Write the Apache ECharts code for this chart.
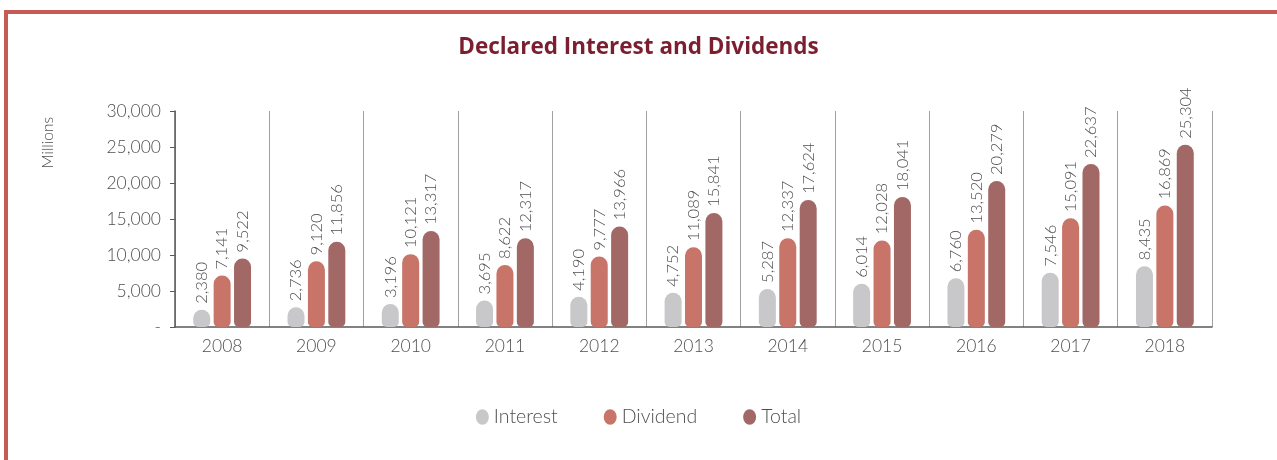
<!DOCTYPE html>
<html>
<head>
<meta charset="utf-8">
<script src="https://cdn.jsdelivr.net/npm/echarts@6/dist/echarts.min.js"></script>
<style>
    body { margin: 0; background: #fff; }
    /* 红色边框（左、上） */
    .frame {
        position: absolute;
        left: 4px;
        top: 10px;
        width: 1290px;
        height: 470px;
        border-left: 4px solid #c65a55;
        border-top: 4px solid #c65a55;
    }
    #main { position: absolute; left: 0; top: 0; width: 1277px; height: 460px; }
</style>
</head>
<body>
<div class="frame"></div>
<div id="main"></div>
<script>
const years = ['2008', '2009', '2010', '2011', '2012', '2013', '2014', '2015', '2016', '2017', '2018'];
const interest = [2380, 2736, 3196, 3695, 4190, 4752, 5287, 6014, 6760, 7546, 8435];
const dividend = [7141, 9120, 10121, 8622, 9777, 11089, 12337, 12028, 13520, 15091, 16869];
const total = [9522, 11856, 13317, 12317, 13966, 15841, 17624, 18041, 20279, 22637, 25304];
const seriesNames = ['Interest', 'Dividend', 'Total'];
const colors = ['#c8c8ca', '#c87468', '#a16865'];

const fmt = v => v.toLocaleString('en-US');
const fontFamily = 'Lato, "Open Sans", sans-serif';
const textColor = '#4f4f4f';
// 图例用的椭圆图标
const ellipseIcon = 'path://M50,0 A50,60 0 1,1 50,120 A50,60 0 1,1 50,0 Z';

const chart = echarts.init(document.getElementById('main'));

const makeSeries = (name, data, color) => ({
    name: name,
    type: 'bar',
    data: data,
    barWidth: 17,
    barGap: '20%',
    itemStyle: {
        color: color,
        borderRadius: [9, 9, 5, 5]
    },
    label: {
        show: true,
        position: 'top',
        rotate: 90,
        align: 'left',
        verticalAlign: 'middle',
        distance: 6,
        color: textColor,
        fontSize: 16.5,
        fontWeight: 300,
        fontFamily: fontFamily,
        formatter: p => fmt(p.value)
    }
});

const option = {
    animation: false,
    title: {
        text: 'Declared Interest and Dividends',
        left: 'center',
        top: 31,
        textStyle: {
            color: '#7b1f30',
            fontSize: 22.5,
            fontWeight: 'bold',
            fontFamily: '"Open Sans", sans-serif'
        }
    },
    legend: {
        bottom: 28,
        left: 'center',
        icon: ellipseIcon,
        itemWidth: 13,
        itemHeight: 16,
        itemGap: 46,
        textStyle: { color: textColor, fontSize: 19.5, fontWeight: 300, fontFamily: fontFamily },
        data: seriesNames
    },
    grid: { left: 175, right: 65, top: 111, bottom: 133 },
    xAxis: {
        type: 'category',
        data: years,
        axisLine: { lineStyle: { color: '#595959', width: 1.5 } },
        axisTick: { show: false },
        axisLabel: { color: textColor, fontSize: 17.5, fontWeight: 300, fontFamily: fontFamily, margin: 10 },
        splitLine: { show: true, lineStyle: { color: '#a0a0a0', width: 1 } }
    },
    yAxis: {
        type: 'value',
        min: 0,
        max: 30000,
        interval: 5000,
        axisLine: { show: true, lineStyle: { color: '#595959', width: 1.5 } },
        axisTick: { show: true, length: 5, lineStyle: { color: '#595959' } },
        axisLabel: {
            color: textColor,
            fontSize: 17.5,
            fontWeight: 300,
            fontFamily: fontFamily,
            margin: 14,
            formatter: v => (v === 0 ? '-' : fmt(v))
        },
        splitLine: { show: false }
    },
    graphic: [
        {
            type: 'text',
            left: 40,
            top: 117,
            rotation: Math.PI / 2,
            style: {
                text: 'Millions',
                fill: textColor,
                fontSize: 15.5,
                fontWeight: 300,
                fontFamily: fontFamily
            }
        }
    ],
    series: [
        makeSeries(seriesNames[0], interest, colors[0]),
        makeSeries(seriesNames[1], dividend, colors[1]),
        makeSeries(seriesNames[2], total, colors[2])
    ]
};
chart.setOption(option);
</script>
</body>
</html>
